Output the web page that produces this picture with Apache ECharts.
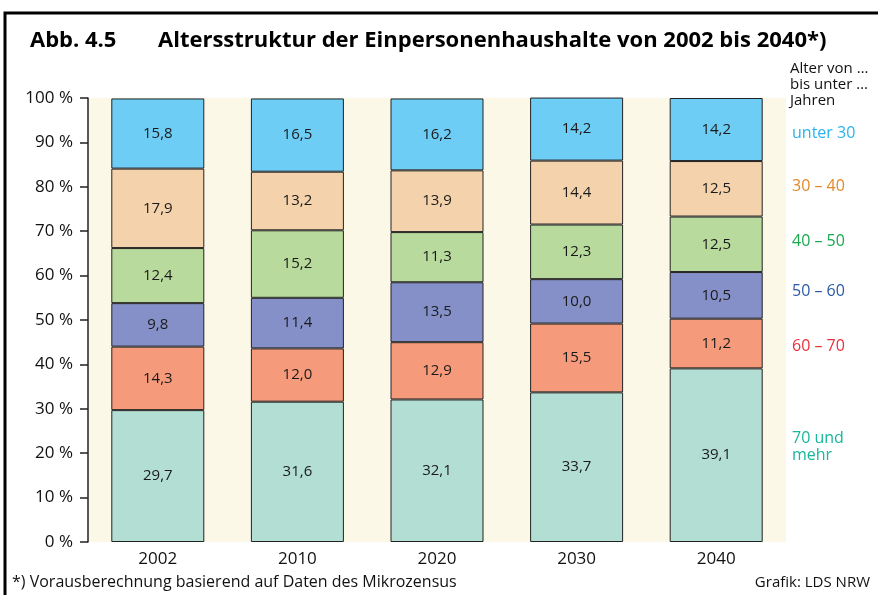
<!doctype html>
<html lang="de">
<head>
	<meta charset="UTF-8">
	<title>Altersstruktur der Einpersonenhaushalte</title>
	<script src="https://cdnjs.cloudflare.com/ajax/libs/echarts/6.0.0/echarts.min.js"></script>
	<style>
		html, body { margin: 0; padding: 0; background: #fff; }
		#main { width: 878px; height: 595px; }
	</style>
</head>
<body>
	<div id="main"></div>
	<script type="text/javascript">
		// Jahre
		var years = ['2002', '2010', '2020', '2030', '2040'];
		// Anteile in %, von unten nach oben gestapelt
		var ab70 = [29.7, 31.6, 32.1, 33.7, 39.1];
		var von60 = [14.3, 12.0, 12.9, 15.5, 11.2];
		var von50 = [9.8, 11.4, 13.5, 10.0, 10.5];
		var von40 = [12.4, 15.2, 11.3, 12.3, 12.5];
		var von30 = [17.9, 13.2, 13.9, 14.4, 12.5];
		var unter30 = [15.8, 16.5, 16.2, 14.2, 14.2];
		var groupNames = ['70 und mehr', '60 – 70', '50 – 60', '40 – 50', '30 – 40', 'unter 30'];
		var yTicks = [0, 10, 20, 30, 40, 50, 60, 70, 80, 90, 100];

		var font = '"Open Sans", "Noto Sans", sans-serif';
		var fills = ['#b3ded4', '#f59a7a', '#8590c8', '#b8da9c', '#f4d2ac', '#6dcdf5'];
		var allData = [ab70, von60, von50, von40, von30, unter30];

		var myChart = echarts.init(document.getElementById('main'));

		var series = allData.map(function (d, i) {
			return {
				name: groupNames[i],
				type: 'bar',
				stack: 'alle',
				barWidth: 93,
				clip: false,
				data: d,
				itemStyle: { color: fills[i], borderColor: '#222', borderWidth: 1 },
				label: {
					show: true,
					position: 'inside',
					fontFamily: font,
					fontSize: 15,
					color: '#1a1a1a',
					formatter: function (p) { return p.value.toFixed(1).replace('.', ','); }
				}
			};
		});

		var option = {
			animation: false,
			backgroundColor: '#fff',
			grid: {
				left: 88, right: 92, top: 98, bottom: 53,
				show: true, backgroundColor: '#fcf8e8', borderWidth: 0
			},
			xAxis: {
				type: 'category',
				data: years,
				axisLine: { show: false },
				axisTick: { show: false },
				axisLabel: { fontFamily: font, fontSize: 17, color: '#111', margin: 9 }
			},
			yAxis: {
				type: 'value',
				min: 0, max: 100, interval: 10,
				axisLine: { show: true, lineStyle: { color: '#222', width: 1.5 } },
				axisTick: { show: true, length: 8, lineStyle: { color: '#222', width: 1.5 } },
				splitLine: { show: false },
				axisLabel: {
					fontFamily: font, fontSize: 17, color: '#111', margin: 15,
					formatter: function (v) { return yTicks.indexOf(v) >= 0 ? v + ' %' : ''; }
				}
			},
			series: series,
			graphic: [
				{ type: 'rect', shape: { x: 5, y: 13, width: 1000, height: 1000 }, style: { fill: 'none', stroke: '#000', lineWidth: 3 }, silent: true },
				{ type: 'text', left: 30, top: 30, style: { text: 'Abb. 4.5', font: 'bold 22px ' + font, fill: '#000' } },
				{ type: 'text', left: 158, top: 30, style: { text: 'Altersstruktur der Einpersonenhaushalte von 2002 bis 2040*)', font: 'bold 22px ' + font, fill: '#000' } },
				{ type: 'text', left: 790, top: 61, style: { text: 'Alter von …\nbis unter …\nJahren', font: '15px ' + font, lineHeight: 16, fill: '#111' } },
				{ type: 'text', left: 792, top: 125, style: { text: 'unter 30', font: '16px ' + font, fill: '#29b4ee' } },
				{ type: 'text', left: 792, top: 178, style: { text: '30 – 40', font: '16px ' + font, fill: '#e0892c' } },
				{ type: 'text', left: 792, top: 233, style: { text: '40 – 50', font: '16px ' + font, fill: '#17a84e' } },
				{ type: 'text', left: 792, top: 283, style: { text: '50 – 60', font: '16px ' + font, fill: '#2a5aa6' } },
				{ type: 'text', left: 792, top: 338, style: { text: '60 – 70', font: '16px ' + font, fill: '#ea2f3a' } },
				{ type: 'text', left: 792, top: 430, style: { text: '70 und\nmehr', font: '16px ' + font, lineHeight: 17, fill: '#17b79a' } },
				{ type: 'text', left: 12, top: 574, style: { text: '*) Vorausberechnung basierend auf Daten des Mikrozensus', font: '16px ' + font, fill: '#111' } },
				{ type: 'text', right: 8, top: 575, style: { text: 'Grafik: LDS NRW', font: '15px ' + font, fill: '#111' } }
			]
		};
		myChart.setOption(option);
	</script>
</body>
</html>
